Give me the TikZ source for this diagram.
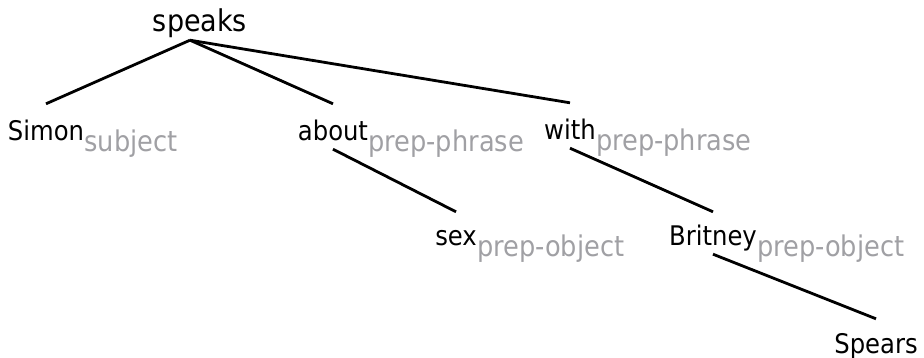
\documentclass[tikz,border=0pt]{standalone}
\usepackage{fontspec}
\setmainfont{DejaVu Sans Condensed}
\usepackage{tikz}

\begin{document}
\begin{tikzpicture}[x=1pt,y=-1pt,
		word/.style={inner sep=0pt, anchor=base, text height=37pt, text depth=8pt, font=\fontsize{27}{32}\selectfont},
		tag/.style={inner sep=0pt, anchor=base west, text=tagcol, font=\fontsize{28.5}{33}\selectfont},
		edge/.style={line width=2.8pt}]
				\definecolor{tagcol}{RGB}{160,160,164}
				\useasboundingbox (0,0) rectangle (924,358);

				\node[word, font=\fontsize{30}{35}\selectfont] (speaks) at (200,32) {speaks};
				\node[word] (simon) at (46,141) {Simon};
				\node[word] (about) at (333,141) {about};
				\node[word] (with) at (570,140) {with};
				\node[word] (sex) at (456,246) {sex};
				\node[word] (britney) at (713,246) {Britney};
				\node[word] (spears) at (876,353) {Spears};

				\node[tag] (simontag) at ([yshift=-11pt]simon.base east) {subject};
				\node[tag] (abouttag) at ([yshift=-11pt]about.base east) {prep-phrase};
				\node[tag] (withtag) at ([yshift=-11pt]with.base east) {prep-phrase};
				\node[tag] (sextag) at ([yshift=-11pt]sex.base east) {prep-object};
				\node[tag] (britneytag) at ([yshift=-11pt]britney.base east) {prep-object};

				\draw[edge] ([xshift=-10pt]speaks.south) -- (simon.north);
				\draw[edge] ([xshift=-10pt]speaks.south) -- (about.north);
				\draw[edge] ([xshift=-10pt]speaks.south) -- (with.north);
				\draw[edge] (about.south) -- ([yshift=-3pt]sex.north);
				\draw[edge] (with.south) -- ([yshift=-3pt]britney.north);
				\draw[edge] (britney.south) -- ([yshift=-3pt]spears.north);
		\end{tikzpicture}
\end{document}
